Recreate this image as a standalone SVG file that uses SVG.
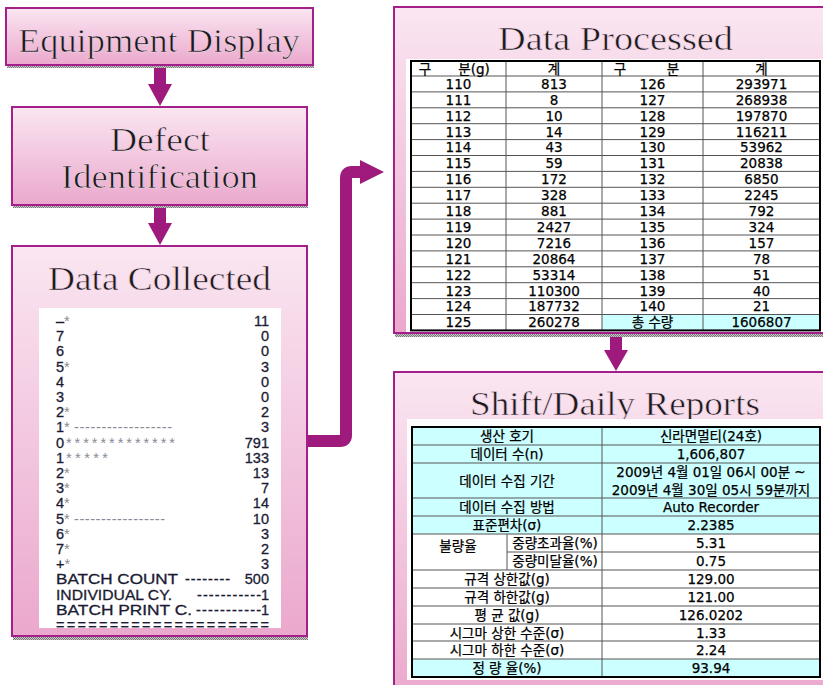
<svg xmlns="http://www.w3.org/2000/svg" width="823" height="685" viewBox="0 0 823 685">
<defs>
<linearGradient id="pink" x1="0" y1="0" x2="0" y2="1">
<stop offset="0" stop-color="#fae6f1"/>
<stop offset="1" stop-color="#eba8cd"/>
</linearGradient>
<pattern id="shadow" width="2" height="2" patternUnits="userSpaceOnUse">
<rect width="2" height="2" fill="#c8c8c8"/>
<rect width="1" height="1" fill="#7a7a7a"/>
<rect x="1" y="1" width="1" height="1" fill="#7a7a7a"/>
</pattern>
<clipPath id="dcclip"><rect x="39" y="308" width="242" height="320"/></clipPath>
<style>
.box{fill:url(#pink);stroke:#a3208a;stroke-width:2}
.sh{fill:url(#shadow)}
.ttl{font-family:"Liberation Serif","DejaVu Serif",serif;font-size:33px;fill:#1a1a1a;text-anchor:middle;stroke:#f6dbe9;stroke-width:0.6}
.k{font-family:"DejaVu Sans","Noto Sans CJK KR",sans-serif;font-size:13.5px;fill:#000;text-anchor:middle;stroke:#000;stroke-width:0.25}
.m{font-family:"Liberation Sans",Arial,sans-serif;font-size:14.5px;fill:#1b1b33;stroke:#1b1b33;stroke-width:0.3}
.r{text-anchor:end}
.g{fill:#8a8a96;stroke:none}
.grid{stroke:#555;stroke-width:1;fill:none}
.outer{stroke:#000;stroke-width:2;fill:none}
.cy{fill:#ccffff}
.arw{fill:#9e1a7c}
</style>
</defs>
<rect width="823" height="685" fill="#fff"/>

<g id="connectors">
<polygon class="arw" points="154,68 166,68 166,84 172,84 160,106 148,84 154,84"/>
<polygon class="arw" points="154,208 166,208 166,223 172,223 160,245 148,223 154,223"/>
<polygon class="arw" points="610,337 622,337 622,350 628,350 616,371 604,350 610,350"/>
<path d="M307 441 H340 Q346 441 346 435 V178 Q346 172 352 172 H362" fill="none" stroke="#9e1a7c" stroke-width="12"/>
<polygon class="arw" points="360,160 384,172 360,184"/>
</g>

<g id="equipment-display">
<rect class="sh" x="7" y="65" width="307" height="3"/>
<rect class="box" x="6" y="8" width="307" height="57"/>
<text class="ttl" x="159" y="52" textLength="282" lengthAdjust="spacingAndGlyphs">Equipment Display</text>
</g>

<g id="defect-identification">
<rect class="sh" x="13" y="205" width="295" height="3"/>
<rect class="box" x="12" y="107" width="295" height="98"/>
<text class="ttl" x="160" y="151" textLength="100" lengthAdjust="spacingAndGlyphs">Defect</text>
<text class="ttl" x="159.5" y="188" textLength="197" lengthAdjust="spacingAndGlyphs">Identification</text>
</g>

<g id="data-collected">
<rect class="sh" x="13" y="636" width="295" height="4"/>
<rect class="box" x="12" y="246" width="295" height="390"/>
<text class="ttl" x="159.5" y="290" textLength="223" lengthAdjust="spacingAndGlyphs">Data Collected</text>
<rect x="39" y="308" width="242" height="320" fill="#fff"/>
<g clip-path="url(#dcclip)">
<text class="m" x="56" y="326">–<tspan class="g">*</tspan></text><text class="m r" x="269" y="326">11</text>
<text class="m" x="56" y="341.2">7</text><text class="m r" x="269" y="341.2">0</text>
<text class="m" x="56" y="356.4">6</text><text class="m r" x="269" y="356.4">0</text>
<text class="m" x="56" y="371.6">5<tspan class="g">*</tspan></text><text class="m r" x="269" y="371.6">3</text>
<text class="m" x="56" y="386.8">4</text><text class="m r" x="269" y="386.8">0</text>
<text class="m" x="56" y="402">3</text><text class="m r" x="269" y="402">0</text>
<text class="m" x="56" y="417.2">2<tspan class="g">*</tspan></text><text class="m r" x="269" y="417.2">2</text>
<text class="m" x="56" y="432.4">1<tspan class="g">*</tspan><tspan class="g" x="74" textLength="98" lengthAdjust="spacing">------------------</tspan></text><text class="m r" x="269" y="432.4">3</text>
<text class="m" x="56" y="447.6">0<tspan class="g" x="66" textLength="109" lengthAdjust="spacing">*************</tspan></text><text class="m r" x="269" y="447.6">791</text>
<text class="m" x="56" y="462.8">1<tspan class="g" x="66" textLength="42" lengthAdjust="spacing">*****</tspan></text><text class="m r" x="269" y="462.8">133</text>
<text class="m" x="56" y="478">2<tspan class="g">*</tspan></text><text class="m r" x="269" y="478">13</text>
<text class="m" x="56" y="493.2">3<tspan class="g">*</tspan></text><text class="m r" x="269" y="493.2">7</text>
<text class="m" x="56" y="508.4">4<tspan class="g">*</tspan></text><text class="m r" x="269" y="508.4">14</text>
<text class="m" x="56" y="523.6">5<tspan class="g">*</tspan><tspan class="g" x="74" textLength="91" lengthAdjust="spacing">-----------------</tspan></text><text class="m r" x="269" y="523.6">10</text>
<text class="m" x="56" y="538.8">6<tspan class="g">*</tspan></text><text class="m r" x="269" y="538.8">3</text>
<text class="m" x="56" y="554">7<tspan class="g">*</tspan></text><text class="m r" x="269" y="554">2</text>
<text class="m" x="56" y="569.2">+<tspan class="g">*</tspan></text><text class="m r" x="269" y="569.2">3</text>
<text class="m" x="56" y="584.4"><tspan textLength="122" lengthAdjust="spacingAndGlyphs">BATCH COUNT</tspan><tspan x="185" textLength="45" lengthAdjust="spacing">--------</tspan></text><text class="m r" x="269" y="584.4">500</text>
<text class="m" x="56" y="599.6"><tspan textLength="116" lengthAdjust="spacingAndGlyphs">INDIVIDUAL CY.</tspan><tspan x="197" textLength="64" lengthAdjust="spacing">-----------</tspan></text><text class="m r" x="269" y="599.6">1</text>
<text class="m" x="56" y="614.8"><tspan textLength="136" lengthAdjust="spacingAndGlyphs">BATCH PRINT C.</tspan><tspan x="196" textLength="65" lengthAdjust="spacing">-----------</tspan></text><text class="m r" x="269" y="614.8">1</text>
<text class="m" x="56" y="630" textLength="213" lengthAdjust="spacing">====================</text>
</g>
</g>

<g id="data-processed">
<rect class="sh" x="395" y="333" width="430" height="4"/>
<rect class="box" x="394" y="7" width="440" height="326"/>
<text class="ttl" x="615.5" y="50" textLength="235" lengthAdjust="spacingAndGlyphs">Data Processed</text>
<rect x="406" y="59" width="420" height="273" fill="#fff"/>
<rect class="cy" x="602" y="314.5" width="218" height="15.9"/>
<path class="grid" d="M411 76H820M411 91.9H820M411 107.8H820M411 123.7H820M411 139.6H820M411 155.5H820M411 171.4H820M411 187.3H820M411 203.2H820M411 219.1H820M411 235H820M411 250.9H820M411 266.8H820M411 282.7H820M411 298.6H820M411 314.5H820M506 61V330.4M602 61V330.4M703 61V330.4"/>
<rect class="outer" x="411" y="61" width="409" height="269.4"/>
<g class="k">
<text x="425" y="73.5">구</text><text x="474" y="73.5">분(g)</text><text x="554" y="73.5">계</text><text x="620" y="73.5">구</text><text x="673" y="73.5">분</text><text x="761.5" y="73.5">계</text>
<text x="458.5" y="88.8">110</text><text x="554" y="88.8">813</text><text x="652.5" y="88.8">126</text><text x="761.5" y="88.8">293971</text>
<text x="458.5" y="104.7">111</text><text x="554" y="104.7">8</text><text x="652.5" y="104.7">127</text><text x="761.5" y="104.7">268938</text>
<text x="458.5" y="120.6">112</text><text x="554" y="120.6">10</text><text x="652.5" y="120.6">128</text><text x="761.5" y="120.6">197870</text>
<text x="458.5" y="136.5">113</text><text x="554" y="136.5">14</text><text x="652.5" y="136.5">129</text><text x="761.5" y="136.5">116211</text>
<text x="458.5" y="152.4">114</text><text x="554" y="152.4">43</text><text x="652.5" y="152.4">130</text><text x="761.5" y="152.4">53962</text>
<text x="458.5" y="168.3">115</text><text x="554" y="168.3">59</text><text x="652.5" y="168.3">131</text><text x="761.5" y="168.3">20838</text>
<text x="458.5" y="184.2">116</text><text x="554" y="184.2">172</text><text x="652.5" y="184.2">132</text><text x="761.5" y="184.2">6850</text>
<text x="458.5" y="200.1">117</text><text x="554" y="200.1">328</text><text x="652.5" y="200.1">133</text><text x="761.5" y="200.1">2245</text>
<text x="458.5" y="216">118</text><text x="554" y="216">881</text><text x="652.5" y="216">134</text><text x="761.5" y="216">792</text>
<text x="458.5" y="231.9">119</text><text x="554" y="231.9">2427</text><text x="652.5" y="231.9">135</text><text x="761.5" y="231.9">324</text>
<text x="458.5" y="247.8">120</text><text x="554" y="247.8">7216</text><text x="652.5" y="247.8">136</text><text x="761.5" y="247.8">157</text>
<text x="458.5" y="263.7">121</text><text x="554" y="263.7">20864</text><text x="652.5" y="263.7">137</text><text x="761.5" y="263.7">78</text>
<text x="458.5" y="279.6">122</text><text x="554" y="279.6">53314</text><text x="652.5" y="279.6">138</text><text x="761.5" y="279.6">51</text>
<text x="458.5" y="295.5">123</text><text x="554" y="295.5">110300</text><text x="652.5" y="295.5">139</text><text x="761.5" y="295.5">40</text>
<text x="458.5" y="311.4">124</text><text x="554" y="311.4">187732</text><text x="652.5" y="311.4">140</text><text x="761.5" y="311.4">21</text>
<text x="458.5" y="327.3">125</text><text x="554" y="327.3">260278</text><text x="652.5" y="327.3">총 수량</text><text x="761.5" y="327.3">1606807</text>
</g>
</g>

<g id="shift-daily-reports">
<rect class="box" x="394" y="372" width="440" height="330"/>
<text class="ttl" x="615" y="415" textLength="290" lengthAdjust="spacingAndGlyphs">Shift/Daily Reports</text>
<rect x="407" y="419" width="420" height="261" fill="#fff"/>
<rect class="cy" x="412" y="427" width="408" height="107"/>
<rect class="cy" x="412" y="659" width="408" height="18"/>
<path class="grid" d="M412 445H820M412 463H820M412 498H820M412 516H820M412 534H820M507 552H820M412 570H820M412 588H820M412 606H820M412 624H820M412 641H820M412 659H820M602 427V677M507 534V570"/>
<rect class="outer" x="412" y="427" width="408" height="250"/>
<g class="k">
<text x="507" y="441">생산 호기</text><text x="711" y="441">신라면멀티(24호)</text>
<text x="507" y="459">데이터 수(n)</text><text x="711" y="459">1,606,807</text>
<text x="507" y="485.5">데이터 수집 기간</text><text x="711" y="477">2009년 4월 01일 06시 00분 ~</text><text x="711" y="495">2009년 4월 30일 05시 59분까지</text>
<text x="507" y="512">데이터 수집 방법</text><text x="711" y="512">Auto Recorder</text>
<text x="507" y="530">표준편차(σ)</text><text x="711" y="530">2.2385</text>
<text x="458" y="551">불량율</text>
<text x="555" y="548">중량초과율(%)</text><text x="711" y="548">5.31</text>
<text x="555" y="566">중량미달율(%)</text><text x="711" y="566">0.75</text>
<text x="507" y="584">규격 상한값(g)</text><text x="711" y="584">129.00</text>
<text x="507" y="602">규격 하한값(g)</text><text x="711" y="602">121.00</text>
<text x="507" y="620">평 균 값(g)</text><text x="711" y="620">126.0202</text>
<text x="507" y="637.5">시그마 상한 수준(σ)</text><text x="711" y="637.5">1.33</text>
<text x="507" y="655">시그마 하한 수준(σ)</text><text x="711" y="655">2.24</text>
<text x="507" y="673">정 량 율(%)</text><text x="711" y="673">93.94</text>
</g>
</g>
</svg>
